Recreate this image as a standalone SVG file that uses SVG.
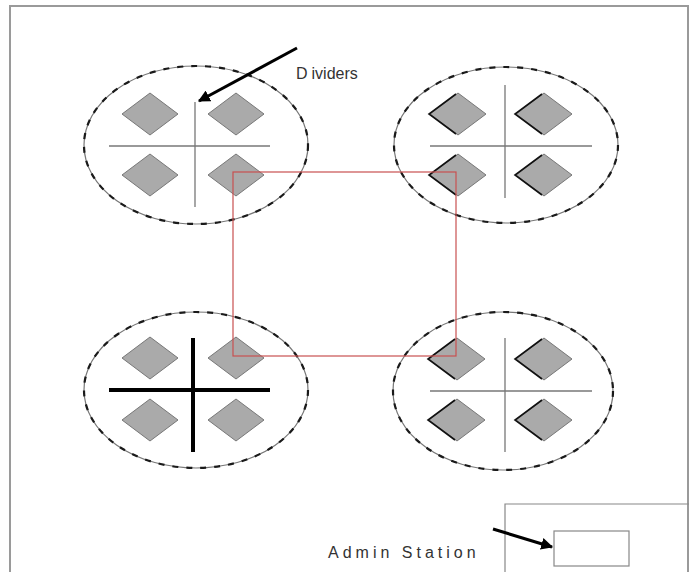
<svg xmlns="http://www.w3.org/2000/svg" width="689" height="572" viewBox="0 0 689 572">
<style>
.frame{fill:none;stroke:#9a9a9a;stroke-width:2}
.ering{fill:#fff;stroke:#777;stroke-width:1.2}
.edash{fill:none;stroke:#1a1a1a;stroke-width:2.2;stroke-dasharray:6 8}
.div{stroke:#777;stroke-width:1.3}
.divb{stroke:#000;stroke-width:4}
.dia{fill:#aaaaaa;stroke:#777;stroke-width:1}
.sh{fill:none;stroke:#111;stroke-width:1.6}
.lbl{font-family:"Liberation Sans",Arial,sans-serif;font-size:16px;fill:#333}
.arr{stroke:#000;stroke-width:3;fill:none}
</style>
<defs>
<marker id="ah" viewBox="0 0 10 10" refX="9" refY="5" markerWidth="4" markerHeight="4" orient="auto" markerUnits="strokeWidth">
<path d="M0,0 L10,5 L0,10 z" fill="#000"/>
</marker>
<polygon id="d" points="-28,0 0,-21 28,0 0,21"/>
<polyline id="s" points="-2,-20 -29,0 -2,20"/>
</defs>
<rect width="689" height="572" fill="#fff"/>
<path class="frame" d="M10,580 V6 H688 V580"/>

<g id="pod-top-left">
<ellipse class="ering" cx="196" cy="145" rx="112" ry="79"/>
<ellipse class="edash" cx="196" cy="145" rx="112" ry="79"/>
<use href="#d" class="dia" x="150" y="114"/>
<use href="#d" class="dia" x="236" y="114"/>
<use href="#d" class="dia" x="150" y="175"/>
<use href="#d" class="dia" x="236" y="175"/>
<line class="div" x1="109" y1="146" x2="270" y2="146"/>
<line class="div" x1="195" y1="102" x2="195" y2="207"/>
</g>

<g id="pod-top-right">
<ellipse class="ering" cx="506" cy="145" rx="112" ry="78"/>
<ellipse class="edash" cx="506" cy="145" rx="112" ry="78"/>
<use href="#d" class="dia" x="458" y="114"/>
<use href="#d" class="dia" x="544" y="114"/>
<use href="#d" class="dia" x="458" y="175"/>
<use href="#d" class="dia" x="544" y="175"/>
<use href="#s" class="sh" x="458" y="114"/>
<use href="#s" class="sh" x="544" y="114"/>
<use href="#s" class="sh" x="458" y="175"/>
<use href="#s" class="sh" x="544" y="175"/>
<line class="div" x1="430" y1="146" x2="592" y2="146"/>
<line class="div" x1="505" y1="85" x2="505" y2="198"/>
</g>

<g id="pod-bottom-left">
<ellipse class="ering" cx="196" cy="390" rx="112" ry="78"/>
<ellipse class="edash" cx="196" cy="390" rx="112" ry="78"/>
<use href="#d" class="dia" x="150" y="358"/>
<use href="#d" class="dia" x="236" y="358"/>
<use href="#d" class="dia" x="150" y="420"/>
<use href="#d" class="dia" x="236" y="420"/>
<line class="divb" x1="109" y1="390" x2="270" y2="390"/>
<line class="divb" x1="193" y1="338" x2="193" y2="452"/>
</g>

<g id="pod-bottom-right">
<ellipse class="ering" cx="503" cy="391" rx="110" ry="79"/>
<ellipse class="edash" cx="503" cy="391" rx="110" ry="79"/>
<use href="#d" class="dia" x="457" y="359"/>
<use href="#d" class="dia" x="544" y="359"/>
<use href="#d" class="dia" x="457" y="420"/>
<use href="#d" class="dia" x="544" y="420"/>
<use href="#s" class="sh" x="457" y="359"/>
<use href="#s" class="sh" x="544" y="359"/>
<use href="#s" class="sh" x="457" y="420"/>
<use href="#s" class="sh" x="544" y="420"/>
<line class="div" x1="430" y1="391" x2="592" y2="391"/>
<line class="div" x1="505" y1="338" x2="505" y2="452"/>
</g>

<g id="center-area">
<rect x="233" y="172" width="223" height="184" fill="none" stroke="#c85050" stroke-width="1.2"/>
</g>

<g id="admin-area">
<path d="M505,580 V504 H690" fill="none" stroke="#888" stroke-width="1.2"/>
<rect id="admin-station" x="554" y="531" width="75" height="35" fill="#fff" stroke="#888" stroke-width="1.2"/>
</g>

<g id="labels">
<text class="lbl" x="296" y="79">D<tspan dx="4">ividers</tspan></text>
<text class="lbl" x="328" y="558" letter-spacing="4">Admin Station</text>
</g>

<g id="connectors">
<line class="arr" x1="297" y1="48" x2="199" y2="101" marker-end="url(#ah)"/>
<line class="arr" x1="493" y1="529" x2="552" y2="547" marker-end="url(#ah)"/>
</g>
</svg>
